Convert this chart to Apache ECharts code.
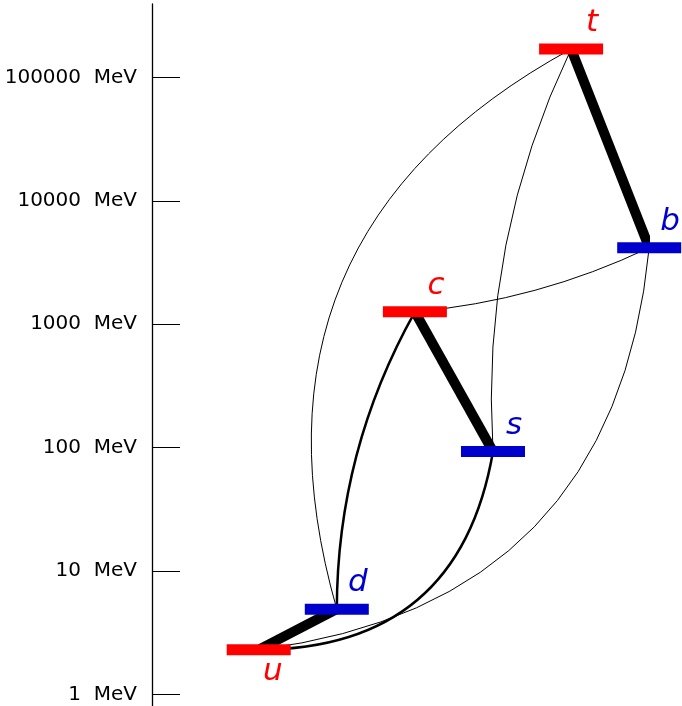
<!DOCTYPE html>
<html>
<head>
<meta charset="utf-8">
<script src="https://cdn.jsdelivr.net/npm/echarts@6/dist/echarts.min.js"></script>
<style>
  html, body { margin: 0; padding: 0; background: #fff; }
  #main { width: 682px; height: 706px; }
</style>
</head>
<body>
<div id="main"></div>
<script>
  // quark masses in MeV, in the left-to-right order they are drawn
  var quarks = ["u", "d", "c", "s", "t", "b"];
  var masses = [2.3, 4.9, 1260, 93, 170000, 4170];
  var flavours = ["up", "down", "up", "down", "up", "down"];
  var tickValues = [1, 10, 100, 1000, 10000, 100000];

  // mixing links between quarks, grouped by strength
  var strongLinks = [["u", "d"], ["c", "s"], ["t", "b"]];
  var mediumLinks = [["d", "c"], ["s", "u"]];
  var weakLinks = [["d", "t"], ["b", "u"], ["s", "t"], ["b", "c"]];

  var colors = { up: "#ff0000", down: "#0000cc" };
  // how far each curve bows away from the straight line
  var bend = { "d-c": 0.13, "s-u": 0.42, "d-t": 0.4, "b-u": 0.4, "s-t": 0.13, "b-c": 0.09 };

  var chart = echarts.init(document.getElementById("main"));

  function point(q) {
    var i = quarks.indexOf(q);
    return [i, masses[i]];
  }

  function linkItems(list, width) {
    return list.map(function(l) {
      return {
        coords: [point(l[0]), point(l[1])],
        lineStyle: { width: width, curveness: bend[l[0] + "-" + l[1]] || 0 }
      };
    });
  }

  var links = []
    .concat(linkItems(strongLinks, 10))
    .concat(linkItems(mediumLinks, 2.5))
    .concat(linkItems(weakLinks, 1));

  var points = quarks.map(function(q, i) {
    var below = q === "u";
    return {
      name: q,
      value: [i, masses[i]],
      itemStyle: { color: colors[flavours[i]], opacity: 1 },
      label: {
        show: true,
        position: below ? "bottom" : "top",
        distance: below ? 1 : 5,
        offset: below ? [14, 0] : [21, 0],
        color: colors[flavours[i]]
      }
    };
  });

  chart.setOption({
    animation: false,
    grid: { left: 258.7, width: 390.5, top: 4, height: 702 },
    xAxis: {
      type: "category",
      data: quarks,
      boundaryGap: false,
      show: false
    },
    yAxis: {
      type: "log",
      min: 0.804,
      max: 394000,
      offset: 106.7,
      axisLine: { show: true, lineStyle: { color: "#000", width: 1.3 } },
      axisTick: {
        show: true,
        inside: true,
        length: 28,
        customValues: tickValues,
        lineStyle: { color: "#000", width: 1 }
      },
      axisLabel: {
        customValues: tickValues,
        margin: 15,
        color: "#000",
        fontFamily: "DejaVu Sans",
        fontSize: 20,
        formatter: function(v) {
          return v + "  MeV";
        }
      },
      splitLine: { show: false },
      minorTick: { show: false }
    },
    series: [
      {
        type: "lines",
        coordinateSystem: "cartesian2d",
        silent: true,
        z: 1,
        lineStyle: { color: "#000", opacity: 1 },
        data: links
      },
      {
        type: "scatter",
        z: 2,
        symbol: "rect",
        symbolSize: [64, 11],
        label: {
          formatter: "{b}",
          fontFamily: "DejaVu Sans",
          fontStyle: "italic",
          fontSize: 31,
          align: "center"
        },
        data: points
      }
    ]
  });
</script>
</body>
</html>
